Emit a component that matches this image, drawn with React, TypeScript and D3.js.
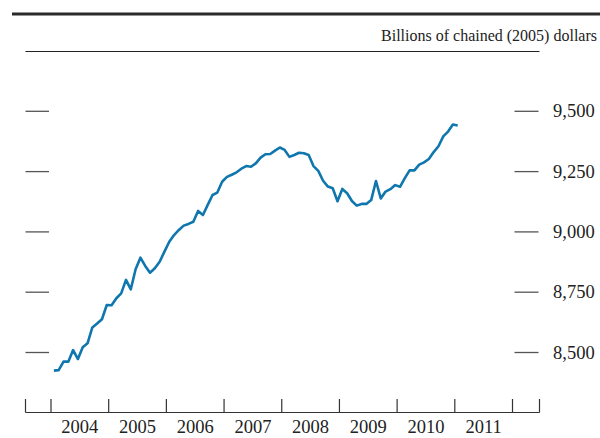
import React from "react";
import * as d3 from "d3";

// Monthly values, Jan 2004 .. Jan 2011 (billions of chained 2005 dollars)
const startYear = 2004;
const values2004 = [8425, 8427, 8462, 8462, 8510, 8473, 8522, 8538, 8604, 8620, 8638, 8697];
const values2005 = [8696, 8725, 8745, 8801, 8762, 8845, 8893, 8859, 8831, 8849, 8876, 8918];
const values2006 = [8959, 8987, 9008, 9026, 9033, 9042, 9087, 9070, 9112, 9153, 9163, 9208];
const values2007 = [9228, 9237, 9247, 9262, 9273, 9270, 9284, 9308, 9322, 9323, 9337, 9350];
const values2008 = [9340, 9311, 9319, 9328, 9326, 9319, 9273, 9253, 9212, 9188, 9181, 9127];
const values2009 = [9178, 9160, 9128, 9109, 9116, 9116, 9132, 9211, 9139, 9167, 9177, 9194];
const values2010 = [9187, 9223, 9255, 9255, 9279, 9288, 9302, 9331, 9355, 9396, 9416, 9445];
const values2011 = [9441];
const series = [
  ...values2004, ...values2005, ...values2006, ...values2007,
  ...values2008, ...values2009, ...values2010, ...values2011,
];

const yTicks = [8500, 8750, 9000, 9250, 9500];
const yearLabels = [2004, 2005, 2006, 2007, 2008, 2009, 2010, 2011];
const yearBoundaries = [2004, 2005, 2006, 2007, 2008, 2009, 2010, 2011, 2012];
const unitsLabel = "Billions of chained (2005) dollars";

const fmt = d3.format(",");

export default function App() {
  const x = d3.scaleLinear().domain([2003.558, 2012.468]).range([25.5, 539.5]);
  const y = d3.scaleLinear().domain([8500, 9500]).range([352.5, 111.3]);
  const line = d3
    .line<number>()
    .x((_, i) => x(startYear + (i + 0.6) / 12))
    .y((d) => y(d));
  const [x0, x1] = x.range();
  const axisY = 412.5;
  const font = "'Liberation Serif', 'Times New Roman', serif";

  return (
    <svg
      width={600}
      height={438}
      style={{ position: "absolute", left: 0, top: 0, background: "#fff" }}
      fontFamily={font}
    >
      <line x1={12} x2={600} y1={14} y2={14} stroke="#2a2a2a" strokeWidth={3} />
      <text x={597} y={41} textAnchor="end" fontSize={16} fill="#222">
        {unitsLabel}
      </text>
      <line x1={x0} x2={x1} y1={51.5} y2={51.5} stroke="#222" strokeWidth={1.2} />

      {yTicks.map((t) => (
        <g key={t}>
          <line x1={x0} x2={49} y1={y(t)} y2={y(t)} stroke="#555" strokeWidth={1.3} />
          <line x1={514.5} x2={538.5} y1={y(t)} y2={y(t)} stroke="#555" strokeWidth={1.3} />
          <text x={553} y={y(t) + 6} fontSize={18.5} fill="#222">
            {fmt(t)}
          </text>
        </g>
      ))}

      <line x1={x0} x2={x1} y1={axisY} y2={axisY} stroke="#333" strokeWidth={1.2} />
      {[x0, ...yearBoundaries.map((b) => x(b)), x1].map((px, i) => (
        <line key={i} x1={px} x2={px} y1={axisY} y2={399} stroke="#333" strokeWidth={1.2} />
      ))}
      {yearLabels.map((yr) => (
        <text key={yr} x={x(yr + 0.5)} y={433} textAnchor="middle" fontSize={18.5} fill="#222">
          {yr}
        </text>
      ))}

      <path
        d={line(series) || ""}
        fill="none"
        stroke="#0f77ad"
        strokeWidth={2.6}
        strokeLinejoin="round"
      />
    </svg>
  );
}
